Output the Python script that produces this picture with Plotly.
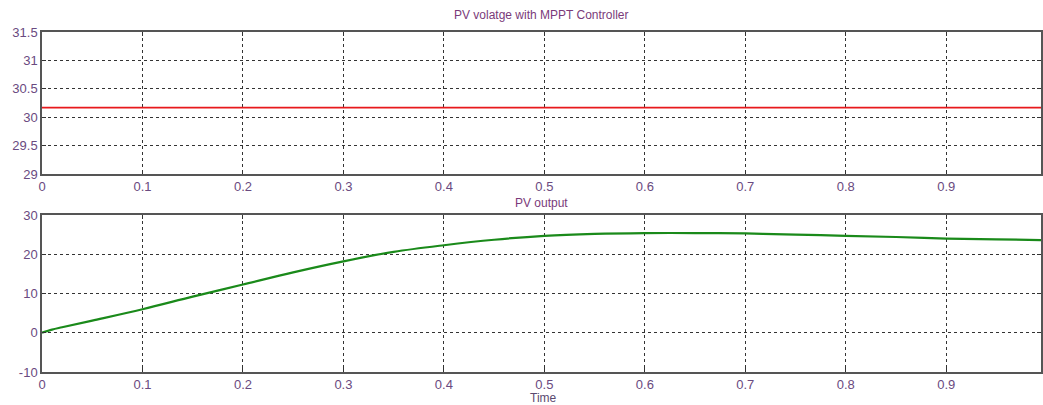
import plotly.graph_objects as go
from plotly.subplots import make_subplots

# Data
t_volt = [0.0, 0.25, 0.5, 0.75, 0.9943]
pv_voltage = [30.17, 30.17, 30.17, 30.17, 30.17]

t_out = [0.0, 0.01, 0.02, 0.05, 0.1, 0.15, 0.2, 0.25, 0.3, 0.35, 0.4, 0.45,
         0.5, 0.55, 0.6, 0.65, 0.7, 0.75, 0.8, 0.85, 0.9, 0.95, 0.9943]
pv_output = [0.0, 0.8, 1.4, 3.1, 6.0, 9.2, 12.3, 15.4, 18.2, 20.6, 22.3, 23.7,
             24.7, 25.2, 25.4, 25.4, 25.3, 25.0, 24.7, 24.4, 24.0, 23.8, 23.6]

x_ticks = [0, 0.1, 0.2, 0.3, 0.4, 0.5, 0.6, 0.7, 0.8, 0.9]
y1_ticks = [29, 29.5, 30, 30.5, 31, 31.5]
y2_ticks = [-10, 0, 10, 20, 30]

W, H = 1043, 405
ml, mr, mt, mb = 42, 0, 32, 33
ph = H - mt - mb  # 340

def py(p):
    return (H - mb - p) / ph

fig = make_subplots(rows=2, cols=1)
fig.add_trace(go.Scatter(x=t_volt, y=pv_voltage, mode="lines",
                         line=dict(color="#e8191c", width=1.8)), row=1, col=1)
fig.add_trace(go.Scatter(x=t_out, y=pv_output, mode="lines", line_shape="spline",
                         line=dict(color="#1a8a1a", width=2.2)), row=2, col=1)

tickfont = dict(family="Liberation Sans, Arial, sans-serif", size=13, color="#6a4a80")
axcommon = dict(showline=True, linecolor="#555555", linewidth=1.5, mirror="ticks",
                ticks="inside", ticklen=4, tickcolor="#333333",
                showgrid=True, gridcolor="#333333", gridwidth=1, griddash="3px,3px",
                zeroline=False, tickfont=tickfont)

xr = [0, 0.9943]
fig.update_xaxes(range=xr, tickvals=x_ticks, ticktext=[str(v) for v in x_ticks], **axcommon)
fig.update_yaxes(**axcommon)
fig.update_yaxes(range=[29, 31.5], tickvals=y1_ticks, ticktext=["29", "29.5", "30", "30.5", "31", "31.5"], row=1, col=1)
fig.update_yaxes(range=[-10, 30], tickvals=y2_ticks, ticktext=[str(v) for v in y2_ticks], row=2, col=1)

fig.update_layout(
    width=W, height=H,
    margin=dict(l=ml, r=mr, t=mt, b=mb),
    plot_bgcolor="white", paper_bgcolor="white",
    showlegend=False,
    yaxis=dict(domain=[py(174), 1.0]),
    yaxis2=dict(domain=[0.0, py(215)]),
    xaxis=dict(anchor="y"), xaxis2=dict(anchor="y2"),
)

titlefont = dict(family="Liberation Sans, Arial, sans-serif", size=12, color="#7a3a7a")
cx = (543 - ml) / (W - ml - mr)
fig.add_annotation(text="PV volatge with MPPT Controller", x=cx, y=py(15), yanchor="middle",
                   xref="paper", yref="paper", showarrow=False, font=titlefont)
fig.add_annotation(text="PV output", x=cx, y=py(203), yanchor="middle",
                   xref="paper", yref="paper", showarrow=False, font=titlefont)
fig.add_annotation(text="Time", x=(545 - ml) / (W - ml - mr), y=py(398), yanchor="middle",
                   xref="paper", yref="paper", showarrow=False,
                   font=dict(family="Liberation Sans, Arial, sans-serif", size=12, color="#5a4a70"))

fig.write_html("out.html")
